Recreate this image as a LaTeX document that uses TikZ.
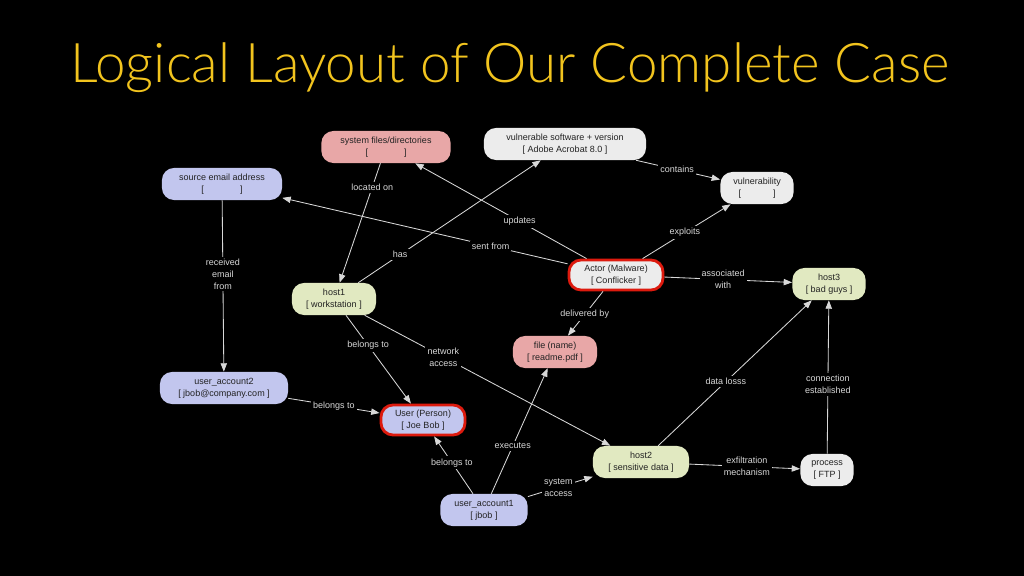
\documentclass[tikz,border=0pt]{standalone}
\usepackage{fontspec}
\setmainfont{Liberation Sans}
\newfontfamily\titlefont{Lato Light}
\usetikzlibrary{arrows.meta}

\definecolor{titleyellow}{HTML}{F2C41E}
\definecolor{pinkfill}{HTML}{E8A7A7}
\definecolor{lavfill}{HTML}{C2C6EE}
\definecolor{greenfill}{HTML}{E1E9C1}
\definecolor{grayfill}{HTML}{ECECEC}
\definecolor{alertred}{HTML}{DD1A0E}
\definecolor{nodetext}{HTML}{222222}
\definecolor{linegray}{HTML}{D8D8D8}

\begin{document}
\begin{tikzpicture}[x=0.025cm, y=-0.025cm, font=\fontsize{6.4}{8.4}\selectfont, every node/.style={align=center},
    pill/.style={rounded corners=0.3cm, minimum height=0.8cm, inner sep=1pt, text=nodetext},
    pinkbox/.style={pill, fill=pinkfill},
    lavbox/.style={pill, fill=lavfill},
    greenbox/.style={pill, fill=greenfill},
    graybox/.style={pill, fill=grayfill},
    alert/.style={draw=alertred, line width=2pt},
    rel/.style={draw=linegray, line width=0.6pt, -{Triangle[width=4.5pt,length=6pt]}},
    lbl/.style={fill=black, text=linegray, inner sep=1.5pt}]
    \fill[black] (0,0) rectangle (1024,576);
    \useasboundingbox (0,0) rectangle (1024,576);

    \node[anchor=base, text=titleyellow, font=\titlefont\fontsize{38.9}{44}\selectfont] (title) at (510,83) {Logical Layout of Our Complete Case};

    % nodes
    \node[pinkbox, minimum width=3.23cm] (sysfiles) at (386,147) {system files/directories\\{[}\hspace{0.9cm}{]}};
    \node[graybox, minimum width=4.05cm] (software) at (565,144) {vulnerable software + version\\{[} Adobe Acrobat 8.0 {]}};
    \node[lavbox, minimum width=3.0cm] (srcmail) at (222,184) {source email address\\{[}\hspace{0.9cm}{]}};
    \node[graybox, minimum width=1.83cm] (vuln) at (757,188) {vulnerability\\{[}\hspace{0.8cm}{]}};
    \node[graybox, alert, minimum width=2.35cm, minimum height=0.75cm] (actor) at (616,275) {Actor (Malware)\\{[} Conflicker {]}};
    \node[greenbox, minimum width=1.83cm] (host3) at (829,284) {host3\\{[} bad guys {]}};
    \node[greenbox, minimum width=2.1cm] (host1) at (334,299) {host1\\{[} workstation {]}};
    \node[pinkbox, minimum width=2.1cm] (file) at (555,352) {file (name)\\{[} readme.pdf {]}};
    \node[lavbox, minimum width=3.2cm] (account2) at (224,388) {user\_account2\\{[} jbob@company.com {]}};
    \node[lavbox, alert, minimum width=2.1cm, minimum height=0.75cm] (user) at (423,420) {User (Person)\\{[} Joe Bob {]}};
    \node[greenbox, minimum width=2.4cm] (host2) at (641,462) {host2\\{[} sensitive data {]}};
    \node[graybox, minimum width=1.33cm] (process) at (827,470) {process\\{[} FTP {]}};
    \node[lavbox, minimum width=2.18cm] (account1) at (484,510) {user\_account1\\{[} jbob {]}};

    % relations
    \draw[rel] (sysfiles) -- node[lbl, pos=0.2] {located on} (host1);
    \draw[rel] (host1) -- node[lbl, pos=0.23] {has} (software);
    \draw[rel] (actor) -- node[lbl, pos=0.27] {sent from} (srcmail);
    \draw[rel] (actor) -- node[lbl, pos=0.39] {updates} (sysfiles);
    \draw[rel] (software) -- node[lbl, pos=0.49] {contains} (vuln);
    \draw[rel] (actor) -- node[lbl, pos=0.48] {exploits} (vuln);
    \draw[rel] (actor) -- node[lbl, pos=0.46] {associated\\with} (host3);
    \draw[rel] (actor) -- node[lbl, pos=0.52] {delivered by} (file);
    \draw[rel] (srcmail) -- node[lbl, pos=0.43] {received\\email\\from} (account2);
    \draw[rel] (account2) -- node[lbl, pos=0.5] {belongs to} (user);
    \draw[rel] (host1) -- node[lbl, pos=0.34] {belongs to} (user);
    \draw[rel] (host1) -- node[lbl, pos=0.32] {network\\access} (host2);
    \draw[rel] (account1) -- node[lbl, pos=0.54] {belongs to} (user);
    \draw[rel] (account1) -- node[lbl, pos=0.38] {executes} (file);
    \draw[rel] (account1) -- node[lbl, pos=0.47] {system\\access} (host2);
    \draw[rel] (host2) -- node[lbl, pos=0.44] {data losss} (host3);
    \draw[rel] (host2) -- node[lbl, pos=0.52] {exfiltration\\mechanism} (process);
    \draw[rel] (process) -- node[lbl, pos=0.45] {connection\\established} (host3);
\end{tikzpicture}
\end{document}
